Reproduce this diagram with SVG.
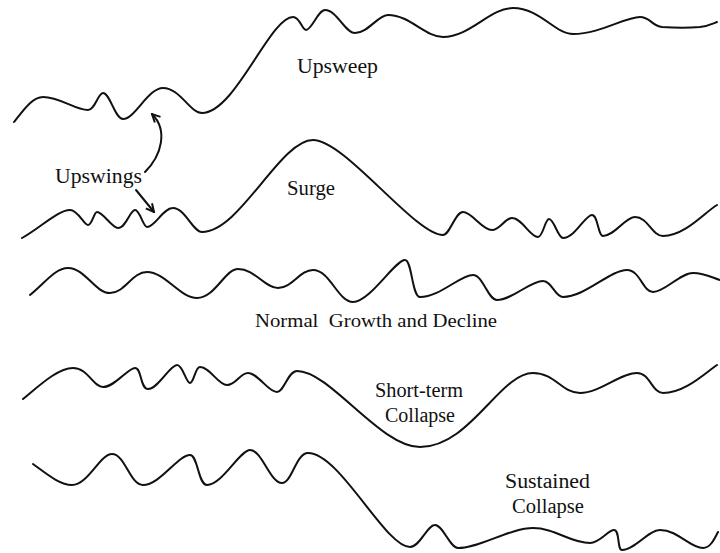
<svg xmlns="http://www.w3.org/2000/svg" width="720" height="553" viewBox="0 0 720 553">
<style>
.wave{fill:none;stroke:#111;stroke-width:2;stroke-linecap:round;stroke-linejoin:round}
.lbl{font-family:"Liberation Serif","Times New Roman",serif;font-size:20px;fill:#111}
.lbl2{font-family:"Liberation Serif","Times New Roman",serif;font-size:19px;fill:#111}
.arr{fill:none;stroke:#111;stroke-width:2;stroke-linecap:round}
</style>
<defs>
<marker id="ah" viewBox="0 0 10 10" refX="9" refY="5" markerWidth="5" markerHeight="5" orient="auto" markerUnits="strokeWidth">
<path d="M1,1 L9,5 L1,9" fill="none" stroke="#111" stroke-width="2" stroke-linejoin="miter"/>
</marker>
</defs>
<rect width="720" height="553" fill="#fff"/>

<g id="upsweep">
<path class="wave" d="M14,122 C25,108 33,97 43,97 C60,97 75,110 88,110 C95,110 98,93 103,93 C110,93 115,119 123,119 C135,119 148,88 163,88 C180,88 190,113 202,113 C235,113 270,17 293,17 C300,17 302,30 306,30 C312,30 318,10 325,10 C337,10 345,33 355,33 C368,33 378,15 388,15 C410,15 425,37 443,37 C470,37 490,8 513,8 C540,8 555,34 573,34 C600,34 625,17 640,17 C650,17 652,26 662,27 C675,28 690,28 700,27 C708,26 712,24 717,22"/>
<text class="lbl" x="297" y="73" textLength="81" lengthAdjust="spacingAndGlyphs">Upsweep</text>
</g>

<g id="surge">
<path class="wave" d="M22,238 C40,228 58,210 70,210 C78,210 84,225 88,225 C92,225 94,212 97,212 C103,212 112,228 118,228 C126,228 130,210 135,210 C140,210 143,227 147,227 C155,227 163,208 173,208 C185,208 193,232 202,232 C240,232 280,140 313,140 C345,140 415,235 443,235 C450,235 455,212 463,212 C472,212 482,230 492,230 C500,230 505,218 512,218 C522,218 530,237 538,237 C543,237 545,219 549,219 C554,219 558,238 563,238 C575,238 585,215 592,215 C598,215 598,236 603,236 C615,236 625,217 635,217 C648,217 652,236 663,236 C685,236 705,212 717,205"/>
<text class="lbl" x="287" y="195" textLength="48" lengthAdjust="spacingAndGlyphs">Surge</text>
</g>

<g id="upswings">
<text class="lbl" x="55" y="183" textLength="87" lengthAdjust="spacingAndGlyphs">Upswings</text>
</g>

<g id="normal">
<path class="wave" d="M30,295 C45,283 55,268 68,268 C85,268 95,293 110,293 C125,293 132,272 147,272 C165,272 180,298 197,298 C215,298 225,269 238,269 C255,269 265,288 278,288 C292,288 300,270 313,270 C330,270 338,302 353,302 C370,302 395,260 405,260 C412,260 412,297 420,297 C440,297 460,275 473,275 C483,275 488,300 497,300 C512,300 530,281 543,281 C552,281 555,297 563,297 C585,297 610,270 627,270 C640,270 643,292 653,292 C665,292 680,273 693,273 C705,273 713,278 720,280"/>
<text class="lbl2" x="255" y="327" textLength="242" lengthAdjust="spacingAndGlyphs" xml:space="preserve">Normal  Growth and Decline</text>
</g>

<g id="short-term">
<path class="wave" d="M23,399 C40,385 58,368 73,368 C88,368 93,387 103,387 C115,387 128,368 135,368 C142,368 140,389 148,389 C158,389 170,365 177,365 C183,365 186,383 190,383 C194,383 195,367 200,367 C210,367 218,385 227,385 C236,385 240,373 248,373 C258,373 268,392 277,392 C284,392 288,371 297,371 C330,371 380,447 420,447 C470,447 500,373 533,373 C555,373 562,393 580,393 C600,393 620,373 637,373 C650,373 652,393 663,393 C685,393 705,373 717,365"/>
<text class="lbl" x="375" y="397" textLength="88" lengthAdjust="spacingAndGlyphs">Short-term</text>
<text class="lbl" x="385" y="422" textLength="70" lengthAdjust="spacingAndGlyphs">Collapse</text>
</g>

<g id="sustained">
<path class="wave" d="M33,464 C48,475 60,485 72,485 C88,485 100,454 112,454 C125,454 130,485 143,485 C160,485 178,455 190,455 C198,455 198,485 207,485 C222,485 240,450 250,450 C262,450 270,483 282,483 C292,483 296,453 308,453 C340,453 385,547 410,547 C420,547 427,525 435,525 C443,525 450,548 458,548 C480,548 510,528 533,528 C555,528 570,543 590,543 C600,543 608,530 614,530 C620,530 617,550 622,550 C635,550 648,530 660,530 C678,530 690,548 703,548 C710,548 714,540 718,532"/>
<text class="lbl" x="505" y="488" textLength="85" lengthAdjust="spacingAndGlyphs">Sustained</text>
<text class="lbl" x="512" y="513" textLength="72" lengthAdjust="spacingAndGlyphs">Collapse</text>
</g>

<g id="connectors">
<path class="arr" d="M145,172 C162,155 168,130 152,114" marker-end="url(#ah)"/>
<path class="arr" d="M136,190 L154,212" marker-end="url(#ah)"/>
</g>
</svg>
